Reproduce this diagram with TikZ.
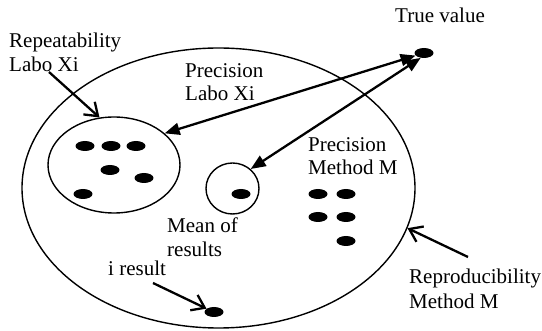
\documentclass[tikz,border=0pt]{standalone}
\usepackage{fontspec}
\setmainfont{Liberation Serif}
\usetikzlibrary{arrows.meta,shapes.geometric}
\begin{document}
\begin{tikzpicture}[x=1pt,y=-1pt,
 lbl/.style={align=left,anchor=north west,inner sep=0pt,font=\fontsize{21}{23.5}\selectfont},
 dot/.style={ellipse,fill=black,minimum width=19pt,minimum height=10pt,inner sep=0pt},
 ring/.style={ellipse,draw,line width=1.4pt,inner sep=0pt},
 dbl/.style={line width=2.3pt,{Triangle[length=15pt,width=12pt]}-{Triangle[length=15pt,width=12pt]}},
 pointer/.style={line width=2.3pt,-{Straight Barb[length=12pt,width=17pt]}}]
\useasboundingbox (0,0) rectangle (542,331);
% shapes
\node[ring,minimum width=393pt,minimum height=280pt] (big) at (218.5,188) {};
\node[ring,minimum width=132pt,minimum height=96pt] (rep) at (114,165) {};
\node[ring,minimum width=53pt,minimum height=51pt] (mean) at (232.5,188.5) {};
% dots
\node[dot] (tv) at (424,53) {};
\node[dot] (r1) at (85,146) {};
\node[dot] (r2) at (111,146) {};
\node[dot] (r3) at (136,146) {};
\node[dot] (r4) at (110,170) {};
\node[dot] (r5) at (144,178) {};
\node[dot] (r6) at (83,194) {};
\node[dot] (md) at (241,194) {};
\node[dot] (m1) at (318,194) {};
\node[dot] (m2) at (346,194) {};
\node[dot] (m3) at (318,217) {};
\node[dot] (m4) at (346,217) {};
\node[dot] (m5) at (346,241) {};
\node[dot] (ires) at (214,312) {};
% labels
\node[lbl] (tRep) at (9,33) {Repeatability\\Labo Xi};
\node[lbl] (tPrecL) at (185,63) {Precision\\Labo Xi};
\node[lbl] (tTrue) at (395,8) {True value};
\node[lbl] (tPrecM) at (308,137) {Precision\\Method M};
\node[lbl] (tMean) at (167,218) {Mean of\\results};
\node[lbl] (tI) at (108,261) {i result};
\node[lbl,font=\fontsize{21}{24.5}\selectfont] (tRepr) at (409,269) {Reproducibility\\Method M};
% connectors
\draw[dbl] (rep.32) -- (tv.197);
\draw[dbl] (mean.47) -- (tv.236);
\coordinate (repS) at (49,72);
\coordinate (iresS) at (153,283);
\coordinate (reprS) at (468,257);
\draw[pointer] (repS) -- (rep.107);
\draw[pointer] (iresS) -- (ires.156);
\draw[pointer] (reprS) -- (big.-12.5);
\end{tikzpicture}
\end{document}
